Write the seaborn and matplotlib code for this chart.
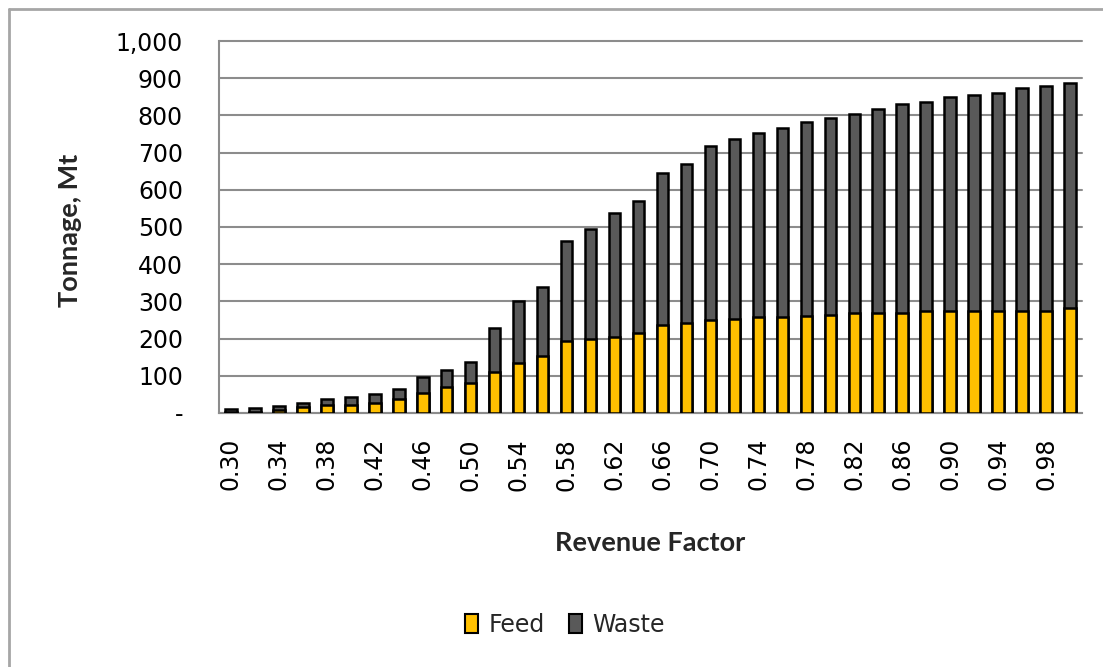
import matplotlib
matplotlib.use("Agg")
import matplotlib.pyplot as plt
import matplotlib.transforms as mtransforms
import pandas as pd
import seaborn as sns
from matplotlib.patches import Patch
from matplotlib.lines import Line2D
from matplotlib.ticker import FuncFormatter, MultipleLocator

# Pit-shell tonnage by revenue factor (Mt)
revenue_factor = ["0.30", "0.32", "0.34", "0.36", "0.38", "0.40", "0.42", "0.44",
                  "0.46", "0.48", "0.50", "0.52", "0.54", "0.56", "0.58", "0.60",
                  "0.62", "0.64", "0.66", "0.68", "0.70", "0.72", "0.74", "0.76",
                  "0.78", "0.80", "0.82", "0.84", "0.86", "0.88", "0.90", "0.92",
                  "0.94", "0.96", "0.98", "1.00"]
feed = [3, 4, 7, 15, 21, 22, 28, 37, 54, 69, 80, 111, 135, 154, 193, 198,
        204, 216, 236, 241, 251, 252, 257, 258, 262, 264, 268, 268, 268, 275,
        275, 275, 275, 275, 275, 281]
waste = [9, 10, 11, 11, 17, 22, 24, 28, 42, 47, 58, 118, 166, 185, 269, 296,
         333, 354, 409, 428, 467, 484, 497, 507, 519, 529, 537, 550, 563, 562,
         574, 581, 586, 599, 605, 606]

FEED_COLOR = "#FFC000"
WASTE_COLOR = "#595959"
GRID_COLOR = "#8c8c8c"
TITLE_FONT = ["Lato", "DejaVu Sans"]

sns.set_theme(style="white")
plt.rcParams["font.family"] = ["DejaVu Sans"]

W, H = 1103, 667
fig = plt.figure(figsize=(W / 100, H / 100), dpi=100)
left, right, top, bottom = 219, 1082, 41, 413
ax = fig.add_axes([left / W, 1 - bottom / H, (right - left) / W, (bottom - top) / H])

df = pd.DataFrame({
    "rf": revenue_factor,
    "feed": feed,
    "total": [f + w for f, w in zip(feed, waste)],
})

bar_kw = dict(width=0.48, edgecolor="black", linewidth=1.8, saturation=1, ax=ax, zorder=3)
# Waste sits on top of feed: draw full stack height first, then feed over it
sns.barplot(data=df, x="rf", y="total", color=WASTE_COLOR, **bar_kw)
sns.barplot(data=df, x="rf", y="feed", color=FEED_COLOR, **bar_kw)

ax.set_xlim(-0.5, len(revenue_factor) - 0.5)
ax.set_ylim(0, 1000)
ax.yaxis.set_major_locator(MultipleLocator(100))
ax.yaxis.set_major_formatter(FuncFormatter(lambda v, _: "-" if v == 0 else f"{v:,.0f}"))
ax.set_xticks(range(0, len(revenue_factor), 2))
ax.set_xticklabels(revenue_factor[::2], rotation=90)

ax.yaxis.grid(True, color=GRID_COLOR, linewidth=1.5)
ax.xaxis.grid(False)
ax.set_axisbelow(True)
for gl in ax.get_ygridlines():
    gl.set_clip_on(False)

for side in ("top", "right"):
    ax.spines[side].set_visible(False)
for side in ("left", "bottom"):
    ax.spines[side].set_color(GRID_COLOR)
    ax.spines[side].set_linewidth(1.5)

ax.tick_params(axis="y", length=0, pad=26, labelsize=17, labelcolor="black")
ax.tick_params(axis="x", length=0, pad=18, labelsize=17, labelcolor="black")

# The zero label ("-") sits a little below its gridline
fig.canvas.draw()
zero_label = ax.get_yticklabels()[0]
zero_label.set_transform(zero_label.get_transform()
                         + mtransforms.ScaledTranslation(0, -7 / 100, fig.dpi_scale_trans))

ax.set_ylabel("Tonnage, Mt", fontsize=19.5, fontweight="bold", family=TITLE_FONT)
ax.set_xlabel("Revenue Factor", fontsize=19.5, fontweight="bold", family=TITLE_FONT)
ax.yaxis.set_label_coords((70 - left) / (right - left), 0.49)
ax.yaxis.label.set_va("center")
ax.xaxis.set_label_coords(0.5, -(543 - bottom) / (bottom - top))
ax.xaxis.label.set_va("center")

handles = [
    Patch(facecolor=FEED_COLOR, edgecolor="black", linewidth=1.5, label="Feed"),
    Patch(facecolor=WASTE_COLOR, edgecolor="black", linewidth=1.5, label="Waste"),
]
fig.legend(handles=handles, loc="center", bbox_to_anchor=(565 / W, 1 - 625 / H),
           ncol=2, frameon=False, fontsize=17, handlelength=0.56, handleheight=0.85,
           handletextpad=0.45, columnspacing=1.0)

# Outer chart frame
frame_kw = dict(transform=fig.transFigure, color="#a6a6a6", linewidth=2)
fig.add_artist(Line2D([9 / W, 1], [1 - 9 / H, 1 - 9 / H], **frame_kw))
fig.add_artist(Line2D([9 / W, 9 / W], [0, 1 - 9 / H], **frame_kw))

fig.savefig("out.png", dpi=100, facecolor="white")
